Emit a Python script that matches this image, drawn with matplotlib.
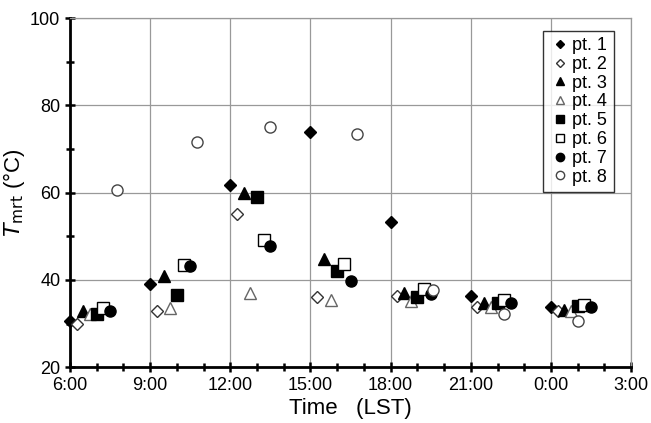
import matplotlib
matplotlib.use("Agg")
import matplotlib.pyplot as plt
from matplotlib.ticker import MultipleLocator, FixedLocator

plt.rcParams["font.family"] = ["Liberation Sans Narrow", "Liberation Sans", "DejaVu Sans"]

# observation times in hours (24 = 0:00 next day), one list per point
labels = ["pt. 1", "pt. 2", "pt. 3", "pt. 4", "pt. 5", "pt. 6", "pt. 7", "pt. 8"]

t_pt1 = [6.0, 9.0, 12.0, 15.0, 18.0, 21.0, 24.0]
t_pt2 = [6.25, 9.25, 12.25, 15.25, 18.25, 21.25, 24.25]
t_pt3 = [6.5, 9.5, 12.5, 15.5, 18.5, 21.5, 24.5]
t_pt4 = [6.75, 9.75, 12.75, 15.75, 18.75, 21.75, 24.75]
t_pt5 = [7.0, 10.0, 13.0, 16.0, 19.0, 22.0, 25.0]
t_pt6 = [7.25, 10.25, 13.25, 16.25, 19.25, 22.25, 25.25]
t_pt7 = [7.5, 10.5, 13.5, 16.5, 19.5, 22.5, 25.5]
t_pt8 = [7.75, 10.75, 13.5, 16.75, 19.6, 22.25, 25.0]

tmrt_pt1 = [30.6, 39.1, 61.7, 73.8, 53.2, 36.2, 33.9]
tmrt_pt2 = [29.9, 32.8, 55.2, 36.1, 36.3, 33.9, 32.8]
tmrt_pt3 = [32.9, 41.0, 60.0, 44.7, 37.1, 34.8, 33.2]
tmrt_pt4 = [32.1, 33.5, 37.1, 35.3, 35.1, 33.9, 32.8]
tmrt_pt5 = [32.2, 36.6, 58.9, 42.0, 36.1, 34.8, 34.1]
tmrt_pt6 = [33.6, 43.5, 49.2, 43.6, 37.9, 35.5, 34.2]
tmrt_pt7 = [32.8, 43.3, 47.8, 39.7, 36.7, 34.8, 33.9]
tmrt_pt8 = [60.6, 71.7, 75.0, 73.4, 37.6, 32.1, 30.6]

times = [t_pt1, t_pt2, t_pt3, t_pt4, t_pt5, t_pt6, t_pt7, t_pt8]
values = [tmrt_pt1, tmrt_pt2, tmrt_pt3, tmrt_pt4, tmrt_pt5, tmrt_pt6, tmrt_pt7, tmrt_pt8]

x_ticks = [6, 9, 12, 15, 18, 21, 24, 27]
x_ticklabels = ["6:00", "9:00", "12:00", "15:00", "18:00", "21:00", "0:00", "3:00"]

# marker, size, face, edge
styles = [
    ("D", 6, "black", "black"),
    ("D", 6, "white", "#333333"),
    ("^", 8, "black", "black"),
    ("^", 8, "white", "#666666"),
    ("s", 8, "black", "black"),
    ("s", 8, "white", "black"),
    ("o", 8, "black", "black"),
    ("o", 8, "white", "#444444"),
]

fig = plt.figure(figsize=(6.51, 4.23), dpi=100)
ax = fig.add_axes([0.1075, 0.132, 0.862, 0.825])

for t, v, lab, (m, ms, fc, ec) in zip(times, values, labels, styles):
    ax.plot(t, v, linestyle="none", marker=m, markersize=ms,
            markerfacecolor=fc, markeredgecolor=ec, markeredgewidth=1.0,
            label=lab, clip_on=False, zorder=3)

ax.set_xlim(6, 27)
ax.set_ylim(20, 100)
ax.xaxis.set_major_locator(FixedLocator(x_ticks))
ax.set_xticklabels(x_ticklabels)
ax.xaxis.set_minor_locator(MultipleLocator(1))
ax.yaxis.set_major_locator(MultipleLocator(20))
ax.yaxis.set_minor_locator(MultipleLocator(10))

ax.grid(True, which="major", color="#999999", linewidth=0.9)
ax.set_axisbelow(True)

for side in ["top", "right"]:
    ax.spines[side].set_color("#999999")
    ax.spines[side].set_linewidth(0.9)
for side in ["left", "bottom"]:
    ax.spines[side].set_color("black")
    ax.spines[side].set_linewidth(2.0)

ax.tick_params(which="both", direction="inout", width=1.8, colors="black",
               labelsize=13, top=False, right=False)
ax.tick_params(which="major", length=7)
ax.tick_params(which="minor", length=6)

ax.set_xlabel("Time   (LST)", fontsize=16, labelpad=3)
ax.set_ylabel(r"$T_{\mathrm{mrt}}$ (°C)", fontsize=16, labelpad=2)

leg = ax.legend(loc="upper right", bbox_to_anchor=(0.985, 0.99), fontsize=13,
                frameon=True, fancybox=False, edgecolor="black",
                handletextpad=0.1, labelspacing=0.1, borderpad=0.35,
                handlelength=1.2, markerscale=0.75)
leg.get_frame().set_linewidth(1.0)

fig.savefig("out.png", dpi=100)
